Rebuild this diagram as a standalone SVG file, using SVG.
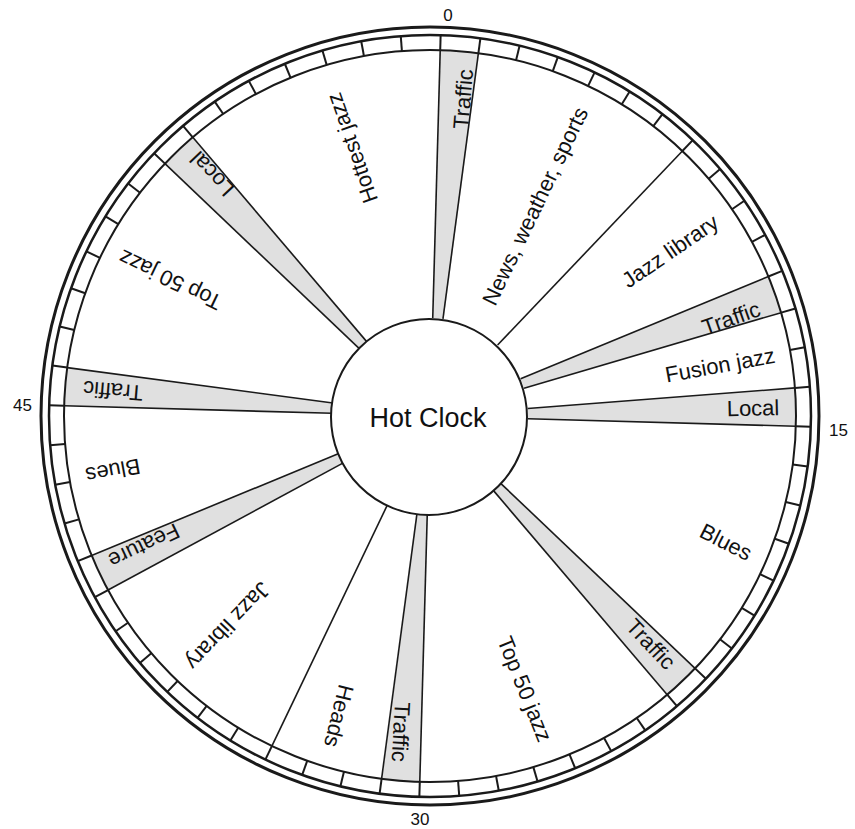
<svg xmlns="http://www.w3.org/2000/svg" width="855" height="829" viewBox="0 0 855 829">
<style>
  .ring{fill:none;stroke:#1a1a1a}
  .tick{stroke:#1a1a1a;stroke-width:2}
  .div{stroke:#1a1a1a;stroke-width:1.6}
  .shade{fill:#e0e0e0}
  .lbl{font-family:"Liberation Sans",Arial,Helvetica,sans-serif;font-size:22px;fill:#111;text-anchor:middle}
  .num{font-family:"Liberation Sans",Arial,Helvetica,sans-serif;font-size:17px;fill:#111}
  .hub{fill:#fff;stroke:#1a1a1a;stroke-width:2}
  .title{font-family:"Liberation Sans",Arial,Helvetica,sans-serif;font-size:27px;fill:#111;text-anchor:middle}
</style>
<defs>
  <path id="gw" d="M430,318 L430,50 A366,366 0 0 1 468.26,52.00 L440.24,318.54 A98,98 0 0 0 430,318 Z"/>
  <line id="tk" x1="430" y1="50" x2="430" y2="35"/>
  <line id="dv" x1="430" y1="318" x2="430" y2="50"/>
</defs>
<rect width="855" height="829" fill="#fff"/>

<!-- shaded one-minute wedges with labels -->
<g id="seg-traffic-00"><use href="#gw" class="shade" transform="rotate(1.6 430 416)"/><text class="lbl" dy=".35em" transform="translate(463 99) rotate(-85.4)">Traffic</text></g>
<g id="seg-news"><text class="lbl" dy=".35em" transform="translate(535 206) rotate(-64.4)">News, weather, sports</text></g>
<g id="seg-jazzlib-a"><text class="lbl" dy=".35em" transform="translate(670 251) rotate(-34.4)">Jazz library</text></g>
<g id="seg-traffic-11"><use href="#gw" class="shade" transform="rotate(67.6 430 416)"/><text class="lbl" dy=".35em" transform="translate(731 318) rotate(-19.4)">Traffic</text></g>
<g id="seg-fusion"><text class="lbl" dy=".35em" transform="translate(720 365) rotate(-10.4)">Fusion jazz</text></g>
<g id="seg-local-14"><use href="#gw" class="shade" transform="rotate(85.6 430 416)"/><text class="lbl" dy=".35em" transform="translate(753 408) rotate(-1.4)">Local</text></g>
<g id="seg-blues-a"><text class="lbl" dy=".35em" transform="translate(726 542) rotate(27)">Blues</text></g>
<g id="seg-traffic-22"><use href="#gw" class="shade" transform="rotate(133.6 430 416)"/><text class="lbl" dy=".35em" transform="translate(651 644) rotate(46.6)">Traffic</text></g>
<g id="seg-top50-a"><text class="lbl" dy=".35em" transform="translate(525 689) rotate(68)">Top 50 jazz</text></g>
<g id="seg-traffic-30"><use href="#gw" class="shade" transform="rotate(181.6 430 416)"/><text class="lbl" dy=".35em" transform="translate(401 732) rotate(93)">Traffic</text></g>
<g id="seg-heads"><text class="lbl" dy=".35em" transform="translate(339 716) rotate(104)">Heads</text></g>
<g id="seg-jazzlib-b"><text class="lbl" dy=".35em" transform="translate(228 626) rotate(133.6)">Jazz library</text></g>
<g id="seg-feature"><use href="#gw" class="shade" transform="rotate(241.6 430 416)"/><text class="lbl" dy=".35em" transform="translate(144 546) rotate(154.6)">Feature</text></g>
<g id="seg-blues-b"><text class="lbl" dy=".35em" transform="translate(113 471) rotate(169.6)">Blues</text></g>
<g id="seg-traffic-45"><use href="#gw" class="shade" transform="rotate(271.6 430 416)"/><text class="lbl" dy=".35em" transform="translate(113 391) rotate(184.6)">Traffic</text></g>
<g id="seg-top50-b"><text class="lbl" dy=".35em" transform="translate(170 280) rotate(205.6)">Top 50 jazz</text></g>
<g id="seg-local-52"><use href="#gw" class="shade" transform="rotate(313.6 430 416)"/><text class="lbl" dy=".35em" transform="translate(212 174) rotate(226.6)">Local</text></g>
<g id="seg-hottest"><text class="lbl" dy=".35em" transform="translate(352 148) rotate(250.6)">Hottest jazz</text></g>

<!-- dividers (connectors) -->
<g id="dividers" class="div">
  <use href="#dv" transform="rotate(1.6 430 416)"/>
  <use href="#dv" transform="rotate(7.6 430 416)"/>
  <use href="#dv" transform="rotate(43.6 430 416)"/>
  <use href="#dv" transform="rotate(67.6 430 416)"/>
  <use href="#dv" transform="rotate(73.6 430 416)"/>
  <use href="#dv" transform="rotate(85.6 430 416)"/>
  <use href="#dv" transform="rotate(91.6 430 416)"/>
  <use href="#dv" transform="rotate(133.6 430 416)"/>
  <use href="#dv" transform="rotate(139.6 430 416)"/>
  <use href="#dv" transform="rotate(181.6 430 416)"/>
  <use href="#dv" transform="rotate(187.6 430 416)"/>
  <use href="#dv" transform="rotate(205.6 430 416)"/>
  <use href="#dv" transform="rotate(241.6 430 416)"/>
  <use href="#dv" transform="rotate(247.6 430 416)"/>
  <use href="#dv" transform="rotate(271.6 430 416)"/>
  <use href="#dv" transform="rotate(277.6 430 416)"/>
  <use href="#dv" transform="rotate(313.6 430 416)"/>
  <use href="#dv" transform="rotate(319.6 430 416)"/>
</g>

<!-- minute ring -->
<g id="ring">
  <circle class="ring" cx="430" cy="416" r="389" stroke-width="3"/>
  <circle class="ring" cx="430" cy="416" r="381" stroke-width="2.5"/>
  <circle class="ring" cx="430" cy="416" r="366" stroke-width="2"/>
  <g class="tick">
    <use href="#tk" transform="rotate(1.6 430 416)"/><use href="#tk" transform="rotate(7.6 430 416)"/><use href="#tk" transform="rotate(13.6 430 416)"/><use href="#tk" transform="rotate(19.6 430 416)"/><use href="#tk" transform="rotate(25.6 430 416)"/><use href="#tk" transform="rotate(31.6 430 416)"/><use href="#tk" transform="rotate(37.6 430 416)"/><use href="#tk" transform="rotate(43.6 430 416)"/><use href="#tk" transform="rotate(49.6 430 416)"/><use href="#tk" transform="rotate(55.6 430 416)"/>
    <use href="#tk" transform="rotate(61.6 430 416)"/><use href="#tk" transform="rotate(67.6 430 416)"/><use href="#tk" transform="rotate(73.6 430 416)"/><use href="#tk" transform="rotate(79.6 430 416)"/><use href="#tk" transform="rotate(85.6 430 416)"/><use href="#tk" transform="rotate(91.6 430 416)"/><use href="#tk" transform="rotate(97.6 430 416)"/><use href="#tk" transform="rotate(103.6 430 416)"/><use href="#tk" transform="rotate(109.6 430 416)"/><use href="#tk" transform="rotate(115.6 430 416)"/>
    <use href="#tk" transform="rotate(121.6 430 416)"/><use href="#tk" transform="rotate(127.6 430 416)"/><use href="#tk" transform="rotate(133.6 430 416)"/><use href="#tk" transform="rotate(139.6 430 416)"/><use href="#tk" transform="rotate(145.6 430 416)"/><use href="#tk" transform="rotate(151.6 430 416)"/><use href="#tk" transform="rotate(157.6 430 416)"/><use href="#tk" transform="rotate(163.6 430 416)"/><use href="#tk" transform="rotate(169.6 430 416)"/><use href="#tk" transform="rotate(175.6 430 416)"/>
    <use href="#tk" transform="rotate(181.6 430 416)"/><use href="#tk" transform="rotate(187.6 430 416)"/><use href="#tk" transform="rotate(193.6 430 416)"/><use href="#tk" transform="rotate(199.6 430 416)"/><use href="#tk" transform="rotate(205.6 430 416)"/><use href="#tk" transform="rotate(211.6 430 416)"/><use href="#tk" transform="rotate(217.6 430 416)"/><use href="#tk" transform="rotate(223.6 430 416)"/><use href="#tk" transform="rotate(229.6 430 416)"/><use href="#tk" transform="rotate(235.6 430 416)"/>
    <use href="#tk" transform="rotate(241.6 430 416)"/><use href="#tk" transform="rotate(247.6 430 416)"/><use href="#tk" transform="rotate(253.6 430 416)"/><use href="#tk" transform="rotate(259.6 430 416)"/><use href="#tk" transform="rotate(265.6 430 416)"/><use href="#tk" transform="rotate(271.6 430 416)"/><use href="#tk" transform="rotate(277.6 430 416)"/><use href="#tk" transform="rotate(283.6 430 416)"/><use href="#tk" transform="rotate(289.6 430 416)"/><use href="#tk" transform="rotate(295.6 430 416)"/>
    <use href="#tk" transform="rotate(301.6 430 416)"/><use href="#tk" transform="rotate(307.6 430 416)"/><use href="#tk" transform="rotate(313.6 430 416)"/><use href="#tk" transform="rotate(319.6 430 416)"/><use href="#tk" transform="rotate(325.6 430 416)"/><use href="#tk" transform="rotate(331.6 430 416)"/><use href="#tk" transform="rotate(337.6 430 416)"/><use href="#tk" transform="rotate(343.6 430 416)"/><use href="#tk" transform="rotate(349.6 430 416)"/><use href="#tk" transform="rotate(355.6 430 416)"/>
  </g>
  <text class="num" x="448" y="21" text-anchor="middle">0</text>
  <text class="num" x="829" y="436">15</text>
  <text class="num" x="420" y="825" text-anchor="middle">30</text>
  <text class="num" x="32" y="411" text-anchor="end">45</text>
</g>

<!-- hub -->
<g id="hub">
  <circle class="hub" cx="429" cy="417" r="98"/>
  <text class="title" x="428" y="427">Hot Clock</text>
</g>
</svg>
